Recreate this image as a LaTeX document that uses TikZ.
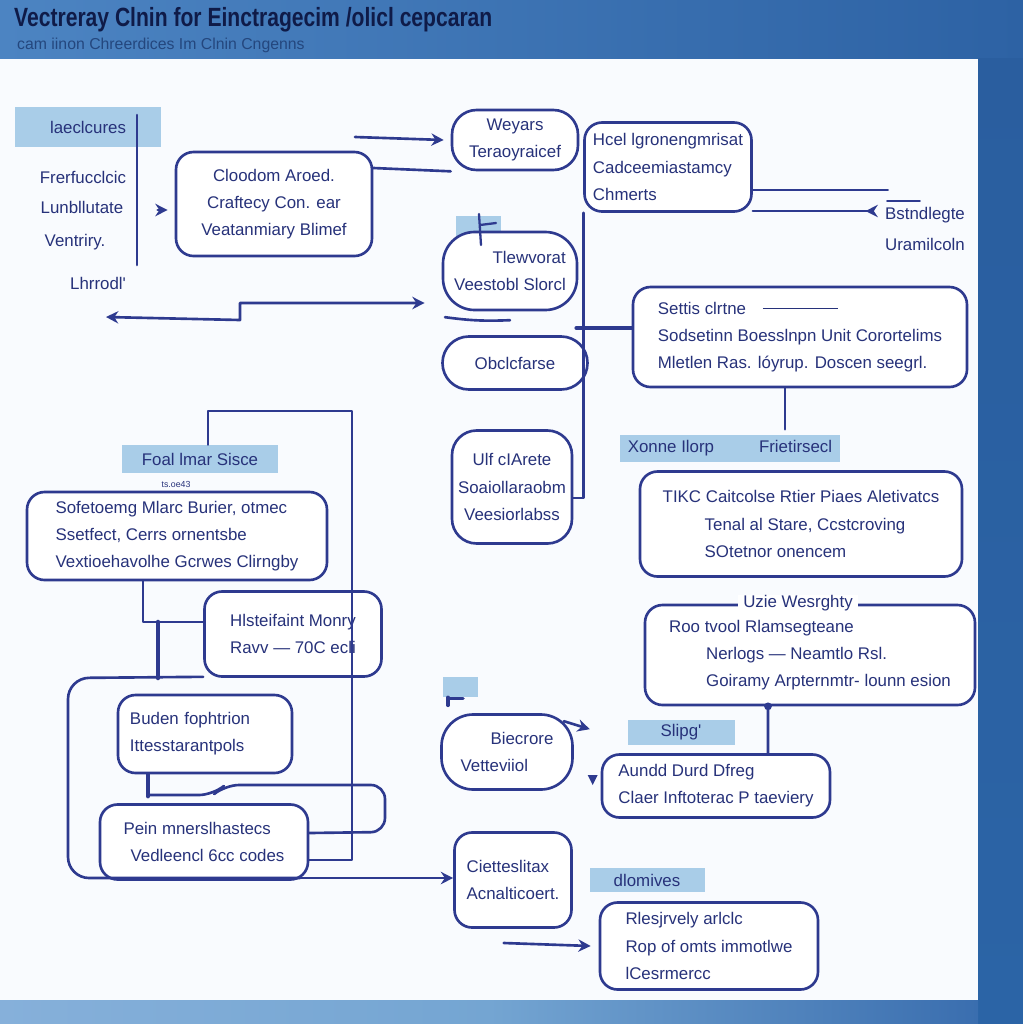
\documentclass[tikz,border=0pt]{standalone}
\usepackage{fontspec}
\setmainfont{Liberation Sans}
\usepackage{graphicx}
\usetikzlibrary{arrows.meta}

\definecolor{ink}{HTML}{2E3A8F}
\definecolor{inktext}{HTML}{27327A}
\definecolor{hilite}{HTML}{A9CDE8}
\definecolor{panel}{HTML}{F9FBFE}
\definecolor{bandleft}{HTML}{4C84C2}
\definecolor{bandright}{HTML}{2D62A4}
\definecolor{sidecol}{HTML}{2A5E9F}
\definecolor{sidedark}{HTML}{2B64A6}
\definecolor{footleft}{HTML}{86B0DA}
\definecolor{footmid}{HTML}{74A5D2}
\definecolor{footright}{HTML}{3A6EAF}
\definecolor{titlecol}{HTML}{0F1B48}
\definecolor{subcol}{HTML}{24477E}

\begin{document}
\begin{tikzpicture}[x=0.2mm,y=-0.2mm,
  link/.style={draw=ink,line width=1.5pt,line join=round,line cap=round},
  arr/.style={link,-{Stealth[length=7pt,width=7pt]}},
  box/.style={draw=ink,line width=1.5pt,rounded corners=10pt,fill=white,
    text=inktext,font=\fontsize{9.6}{15.5}\selectfont,inner sep=0pt,align=left},
  bubble/.style={box,rounded corners=18pt},
  txt/.style={text=inktext,font=\fontsize{9.6}{15.5}\selectfont,inner sep=0pt},
  hl/.style={fill=hilite,text=inktext,font=\fontsize{9.6}{12}\selectfont,inner sep=0pt}]

  % frame
  \fill[panel] (0,0) rectangle (1023,1024);
  \shade[left color=bandleft,right color=bandright] (0,0) rectangle (1023,58);
  \shade[top color=sidecol,bottom color=sidedark] (978,58) rectangle (1023,1024);
  \shade[left color=footleft,right color=footright,middle color=footmid] (0,1000) rectangle (978,1024);
  \useasboundingbox (0,0) rectangle (1023,1024);

  \node[anchor=west,font=\bfseries\fontsize{15}{17}\selectfont,text=titlecol] (title) at (8,20)
    {\scalebox{0.8}[1]{Vectreray Clnin for Einctragecim /olicl cepcaran}};
  \node[anchor=west,font=\fontsize{9}{11}\selectfont,text=subcol] (subtitle) at (11,45)
    {cam iinon Chreerdices Im Clnin Cngenns};

  % left column
  \node[hl,minimum width=29mm,minimum height=8mm] (lacc) at (88,127) {laeclcures};
  \node[txt] (fref) at (83,177) {Frerfucclcic};
  \node[txt] (lunb) at (82,207) {Lunbllutate};
  \node[txt] (vent) at (75,242) {Ventriry.};
  \node[txt] (lhrr) at (98,283) {Lhrrodl\textquotesingle};
  \coordinate (divtop) at (137,115);
  \coordinate (divbot) at (137,265);

  \node[box,align=center,minimum width=39.2mm,minimum height=20.8mm] (clood) at (274,204)
    {Cloodom Aroed.\\Craftecy Con. ear\\Veatanmiary Blimef};

  % top middle
  \node[box,align=center,rounded corners=14pt,minimum width=25.2mm,minimum height=12mm] (weyars) at (515,140)
    {Weyars\\Teraoyraicef};
  \node[box,minimum width=33.4mm,minimum height=17.8mm] (hcel) at (668,167)
    {Hcel lgronengmrisat\\Cadceemiastamcy\\Chmerts};
  \node[txt,align=right] (bstn) at (925,229) {Bstndlegte\\[2pt]Uramilcoln};

  \node[hl,minimum width=9mm,minimum height=4.6mm] (tlewtag) at (478,227) {};
  \node[bubble,align=right,minimum width=26.8mm,minimum height=15.6mm] (tlew) at (510,271)
    {Tlewvorat\\Veestobl Slorcl};
  \node[box,rounded corners=15pt,minimum width=29mm,minimum height=10.6mm] (obcl) at (515,363) {Obclcfarse};
  \node[box,align=center,rounded corners=14pt,minimum width=24mm,minimum height=22.6mm] (ulf) at (512,487)
    {Ulf cIArete\\Soaiollaraobm\\Veesiorlabss};

  % right column
  \node[box,minimum width=66.8mm,minimum height=20mm] (settis) at (800,337)
    {Settis clrtne\quad\rule[0.6ex]{15mm}{0.7pt}\\Sodsetinn Boesslnpn Unit Corortelims\\Mletlen Ras. lóyrup. Doscen seegrl.};
  \node[hl,minimum width=44mm,minimum height=5.4mm] (xonne) at (730,448) {Xonne Ilorp\hspace{9mm}Frietirsecl};
  \node[box,minimum width=64.4mm,minimum height=21mm] (tikc) at (801,524)
    {TIKC Caitcolse Rtier Piaes Aletivatcs\\\hspace*{8.4mm}Tenal al Stare, Ccstcroving\\\hspace*{8.4mm}SOtetnor onencem};
  \node[box,minimum width=66mm,minimum height=20mm] (uzie) at (810,655)
    {Roo tvool Rlamsegteane\\\hspace*{7.4mm}Nerlogs — Neamtlo Rsl.\\\hspace*{7.4mm}Goiramy Arpternmtr- lounn esion};
  \node[txt,fill=white,inner xsep=3pt] (uzietitle) at (798,603) {Uzie Wesrghty};
  \node[hl,minimum width=21.4mm,minimum height=5mm] (slipg) at (681,732) {Slipg\textquotesingle};
  \node[box,minimum width=45.6mm,minimum height=12.6mm] (aund) at (716,786)
    {Aundd Durd Dfreg\\Claer Inftoterac P taeviery};

  \node[hl,minimum width=7mm,minimum height=4mm] (biectag) at (460,687) {};
  \node[bubble,minimum width=26.2mm,minimum height=15mm] (biec) at (507,752)
    {\hspace*{6mm}Biecrore\\Vetteviiol};
  \node[box,minimum width=23.4mm,minimum height=19mm] (ciet) at (513,880)
    {Cietteslitax\\Acnalticoert.};
  \node[hl,minimum width=23mm,minimum height=4.8mm] (dlom) at (647,880) {dlomives};
  \node[box,minimum width=43.6mm,minimum height=17.4mm] (rles) at (709,946)
    {Rlesjrvely arlclc\\Rop of omts immotlwe\\lCesrmercc};

  % left lower group
  \node[hl,minimum width=31.2mm,minimum height=5.6mm] (foal) at (200,459) {Foal lmar Sisce};
  \node[txt,font=\fontsize{5}{6}\selectfont] (tsoe) at (176,484) {ts.oe43};
  \node[box,minimum width=60mm,minimum height=17.6mm] (sofe) at (177,536)
    {Sofetoemg Mlarc Burier, otmec\\Ssetfect, Cerrs ornentsbe\\Vextioehavolhe Gcrwes Clirngby};
  \node[box,minimum width=35.4mm,minimum height=17mm] (hlst) at (293,634)
    {Hlsteifaint Monry\\Ravv — 70C ecli};
  \node[box,minimum width=34.8mm,minimum height=15.6mm,text width=30mm] (bude) at (205,734)
    {Buden fophtrion\\Ittesstarantpols};
  \node[box,minimum width=41.6mm,minimum height=15mm] (pein) at (204,842)
    {Pein mnerslhastecs\\\hspace*{1.4mm}Vedleencl 6cc codes};

  % connectors
  \draw[link] (divtop) -- (divbot);
  \draw[arr] ([xshift=-3.4mm,yshift=-1.2mm]clood.west) -- ([xshift=-1.4mm,yshift=-1.2mm]clood.west);
  \coordinate (backtip) at (106,317);
  \draw[link,{Stealth[length=7pt,width=7pt]}-{Stealth[length=7pt,width=7pt]}]
    (backtip) -- (240,320) -- (240,303) -- ([xshift=-3.4mm,yshift=-6.4mm]tlew.west);
  \coordinate (weyin) at (355,137);
  \draw[arr] (weyin) -- ([xshift=-1.4mm]weyars.west);
  \draw[link] ([yshift=7.2mm]clood.east) -- (weyars.south west);
  \draw[link] ([yshift=-4.6mm]hcel.east) -- ++(135,0);
  \draw[link,-{Stealth[length=7pt,width=7pt,reversed]}] ([yshift=-8.8mm]hcel.east) -- ++(125,0);
  \draw[link,line width=1pt] ([xshift=-7.6mm,yshift=1.2mm]bstn.north) -- ++(33,0);
  \draw[link] (hcel.south west) |- ([yshift=-2.2mm]ulf.east);
  \draw[link,line width=2.6pt] ([xshift=-11mm,yshift=1.8mm]settis.west) -- ([yshift=1.8mm]settis.west);
  \draw[link] ([xshift=-3mm]settis.south) -- ++(0,41);
  \draw[link] ([xshift=-14mm,yshift=3.6mm]obcl.north) to[bend right=5] ([xshift=-1mm,yshift=3mm]obcl.north);
  \draw[link,line width=1.3pt] ([xshift=0.2mm,yshift=2.6mm]tlewtag.center) -- ([xshift=0.6mm,yshift=-3.6mm]tlewtag.center)
    ([xshift=0.4mm,yshift=0.4mm]tlewtag.center) -- ([xshift=3.6mm,yshift=0.8mm]tlewtag.center);
  \draw[link,line width=2pt] ([xshift=-2.4mm]biectag.south) -- ([xshift=-2.4mm,yshift=-1.6mm]biectag.south)
    ([xshift=-2.4mm,yshift=-0.2mm]biectag.south) -- ([xshift=0.6mm,yshift=-0.2mm]biectag.south);
  \draw[arr] ([xshift=-2mm,yshift=-1.6mm]biec.north east) -- ++(26,8);
  \fill[ink] ([xshift=-2.6mm,yshift=2.2mm]aund.west) -- ++(10,0) -- ++(-5,10) -- cycle;
  \draw[link] ([xshift=-8.4mm]uzie.south) -- ([xshift=10.4mm]aund.north);
  \fill[ink] ([xshift=-8.4mm]uzie.south) circle (2.2pt);
  \draw[arr] ([xshift=-19mm,yshift=0.6mm]rles.west) -- ([xshift=-1.6mm]rles.west);

  \draw[link] (foal.north -| 208,0) |- (352,411) |- ([yshift=-3.6mm]pein.east);
  \draw[link] ([xshift=-6.8mm]sofe.south) |- ([yshift=2.4mm]hlst.west);
  \draw[link,line width=2.6pt] (158,622) -- (158,678);
  \draw[link,rounded corners=12pt] ([yshift=0.2mm]hlst.south west) -- (68,678) -- (68,878) -- (300,878);
  \draw[arr] (300,878) -- ([yshift=0.4mm]ciet.west);
  \draw[link,line width=2.4pt] ([xshift=-11.4mm]bude.south) -- ++(0,22);
  \draw[link,rounded corners=8pt] (148,795) -- (213,795) -- (225,785) -- (385,785) -- (385,832)
    -- ([yshift=1.8mm]pein.east);
\end{tikzpicture}
\end{document}
